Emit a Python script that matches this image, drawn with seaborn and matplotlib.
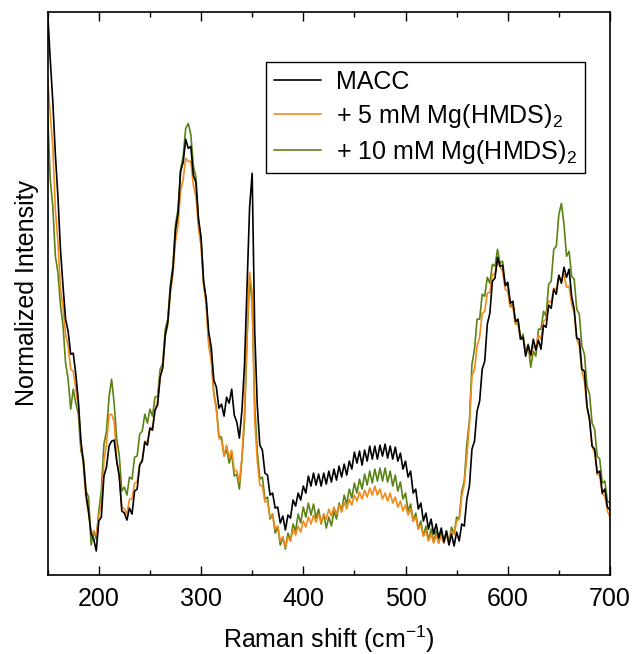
import numpy as np
import pandas as pd
import matplotlib
matplotlib.use("Agg")
import matplotlib.pyplot as plt
from matplotlib.ticker import MultipleLocator
import seaborn as sns

# Raman shift grid (cm-1), 2.5 cm-1 steps from 150 to 700
shift = np.arange(150, 702.5, 2.5)

# intensities (arbitrary units, axis 0..564)
macc = [
    563, 516, 474, 421, 379, 326, 289, 256, 244, 221,
    222, 201, 174, 134, 113, 81, 63, 41, 36, 24,
    54, 58, 99, 108, 129, 134, 135, 114, 99, 64,
    62, 55, 67, 61, 84, 86, 110, 114, 133, 130,
    147, 145, 165, 170, 198, 207, 240, 253, 286, 307,
    345, 362, 404, 413, 436, 427, 429, 400, 393, 356,
    338, 294, 277, 243, 228, 195, 188, 167, 171, 159,
    178, 172, 186, 160, 153, 137, 165, 210, 288, 368,
    402, 244, 170, 130, 125, 102, 100, 80, 82, 67,
    68, 52, 59, 45, 60, 57, 75, 69, 82, 75,
    89, 82, 99, 89, 102, 90, 101, 89, 102, 91,
    104, 93, 106, 95, 109, 98, 111, 100, 114, 106,
    123, 112, 124, 110, 125, 114, 129, 116, 129, 116,
    130, 119, 131, 117, 129, 116, 128, 114, 122, 106,
    114, 98, 104, 82, 86, 66, 72, 54, 62, 46,
    56, 41, 51, 37, 47, 33, 44, 30, 41, 29,
    43, 34, 51, 49, 76, 89, 126, 134, 164, 174,
    206, 214, 251, 262, 294, 297, 318, 309, 310, 290,
    293, 272, 274, 254, 256, 236, 238, 219, 230, 220,
    236, 225, 235, 226, 250, 248, 270, 267, 286, 281,
    300, 292, 308, 298, 306, 279, 266, 237, 236, 206,
    204, 169, 156, 129, 126, 102, 104, 82, 86, 68,
    65,
]

mg_5mm = [
    497, 461, 429, 366, 334, 286, 269, 241, 229, 206,
    204, 186, 169, 131, 109, 76, 62, 41, 44, 40,
    59, 71, 114, 131, 160, 161, 154, 116, 99, 68,
    66, 61, 76, 76, 92, 93, 111, 116, 134, 133,
    147, 148, 166, 174, 199, 211, 239, 251, 282, 301,
    334, 351, 384, 396, 417, 414, 414, 390, 379, 347,
    329, 290, 270, 230, 214, 181, 165, 137, 135, 120,
    130, 117, 125, 105, 104, 93, 118, 165, 240, 303,
    283, 155, 114, 90, 89, 73, 74, 58, 60, 46,
    49, 34, 38, 28, 38, 34, 46, 40, 49, 43,
    54, 48, 58, 51, 60, 53, 61, 52, 61, 56,
    66, 59, 68, 61, 70, 63, 73, 66, 76, 70,
    80, 74, 83, 76, 85, 78, 87, 80, 89, 80,
    86, 76, 82, 74, 82, 72, 78, 68, 74, 64,
    70, 60, 66, 54, 58, 46, 50, 39, 44, 34,
    41, 32, 40, 32, 40, 32, 40, 33, 44, 41,
    54, 56, 79, 91, 119, 151, 199, 206, 229, 238,
    262, 264, 282, 283, 301, 301, 314, 308, 304, 286,
    284, 268, 269, 251, 251, 236, 237, 224, 229, 218,
    229, 228, 240, 236, 254, 256, 274, 273, 287, 286,
    300, 294, 301, 288, 289, 271, 262, 236, 229, 204,
    194, 168, 154, 129, 122, 101, 99, 81, 79, 64,
    58,
]

mg_10mm = [
    460, 396, 369, 319, 303, 270, 250, 212, 196, 166,
    186, 172, 161, 124, 116, 84, 78, 30, 44, 36,
    64, 84, 131, 144, 178, 196, 172, 136, 120, 84,
    88, 80, 98, 96, 118, 119, 141, 144, 161, 152,
    166, 159, 178, 179, 206, 212, 246, 256, 291, 309,
    351, 366, 406, 419, 447, 452, 441, 409, 398, 356,
    336, 292, 274, 234, 218, 182, 168, 139, 138, 119,
    126, 112, 121, 99, 101, 86, 116, 154, 236, 298,
    272, 170, 124, 96, 98, 76, 78, 56, 61, 42,
    48, 30, 38, 26, 42, 34, 51, 44, 61, 52,
    68, 58, 72, 60, 71, 57, 66, 51, 61, 47,
    58, 49, 64, 56, 72, 64, 80, 71, 86, 77,
    92, 82, 96, 86, 101, 90, 104, 92, 106, 94,
    107, 94, 107, 93, 104, 89, 100, 84, 93, 76,
    82, 64, 71, 54, 62, 46, 54, 39, 49, 35,
    46, 33, 44, 32, 44, 32, 44, 33, 48, 41,
    58, 56, 84, 94, 131, 154, 211, 226, 256, 256,
    281, 279, 298, 292, 311, 309, 326, 312, 314, 289,
    291, 269, 271, 252, 256, 236, 241, 222, 231, 208,
    224, 219, 246, 246, 264, 259, 291, 294, 326, 329,
    361, 372, 351, 319, 324, 299, 296, 266, 261, 229,
    221, 189, 181, 152, 146, 119, 116, 92, 94, 74,
    72,
]

labels = ["MACC", "+ 5 mM Mg(HMDS)$_2$", "+ 10 mM Mg(HMDS)$_2$"]
colors = ["#000000", "#F28A1A", "#5A8214"]
xticks = [200, 300, 400, 500, 600, 700]

sns.set_style("ticks")
plt.rcParams["font.family"] = ["Liberation Sans", "DejaVu Sans"]
plt.rcParams["mathtext.fontset"] = "custom"
plt.rcParams["mathtext.rm"] = "Liberation Sans"
plt.rcParams["mathtext.it"] = "Liberation Sans:italic"
plt.rcParams["mathtext.bf"] = "Liberation Sans:bold"
plt.rcParams["text.color"] = "black"
plt.rcParams["axes.labelcolor"] = "black"
plt.rcParams["axes.edgecolor"] = "black"
plt.rcParams["xtick.color"] = "black"

df = pd.DataFrame({
    "shift": np.tile(shift, 3),
    "intensity": np.concatenate([macc, mg_5mm, mg_10mm]),
    "sample": np.repeat(labels, len(shift)),
})

fig = plt.figure(figsize=(6.35, 6.54), dpi=100)
ax = fig.add_axes([0.0751, 0.1208, 0.8855, 0.8616])

# draw green first, black on top
order = labels[::-1]
sns.lineplot(data=df, x="shift", y="intensity", hue="sample", hue_order=order,
             palette=dict(zip(labels, colors)), estimator=None, linewidth=1.2,
             legend=False, ax=ax)

lines = ax.get_lines()
handles = lines[::-1]
ax.legend(handles, labels, loc="upper right", bbox_to_anchor=(0.955, 0.91),
          borderaxespad=0, fancybox=False, edgecolor="black", framealpha=1,
          fontsize=18, handlelength=1.9, handletextpad=0.6, labelspacing=0.32,
          borderpad=0.3)
ax.get_legend().get_frame().set_linewidth(1.0)

ax.set_xlim(150, 700)
ax.set_ylim(0, 564)
ax.set_xticks(xticks)
ax.xaxis.set_minor_locator(MultipleLocator(50))
ax.set_yticks([])
ax.tick_params(axis="x", which="major", direction="in", top=True, bottom=True,
               length=6.5, width=1.0, labelsize=18, pad=9)
ax.tick_params(axis="x", which="minor", direction="in", top=True, bottom=True,
               length=3.5, width=1.0)
for s in ax.spines.values():
    s.set_linewidth(1.2)

ax.set_xlabel("Raman shift (cm$^{-1}$)", fontsize=18, labelpad=9)
ax.set_ylabel("Normalized Intensity", fontsize=18, labelpad=6)

fig.savefig("out.png", dpi=100)
